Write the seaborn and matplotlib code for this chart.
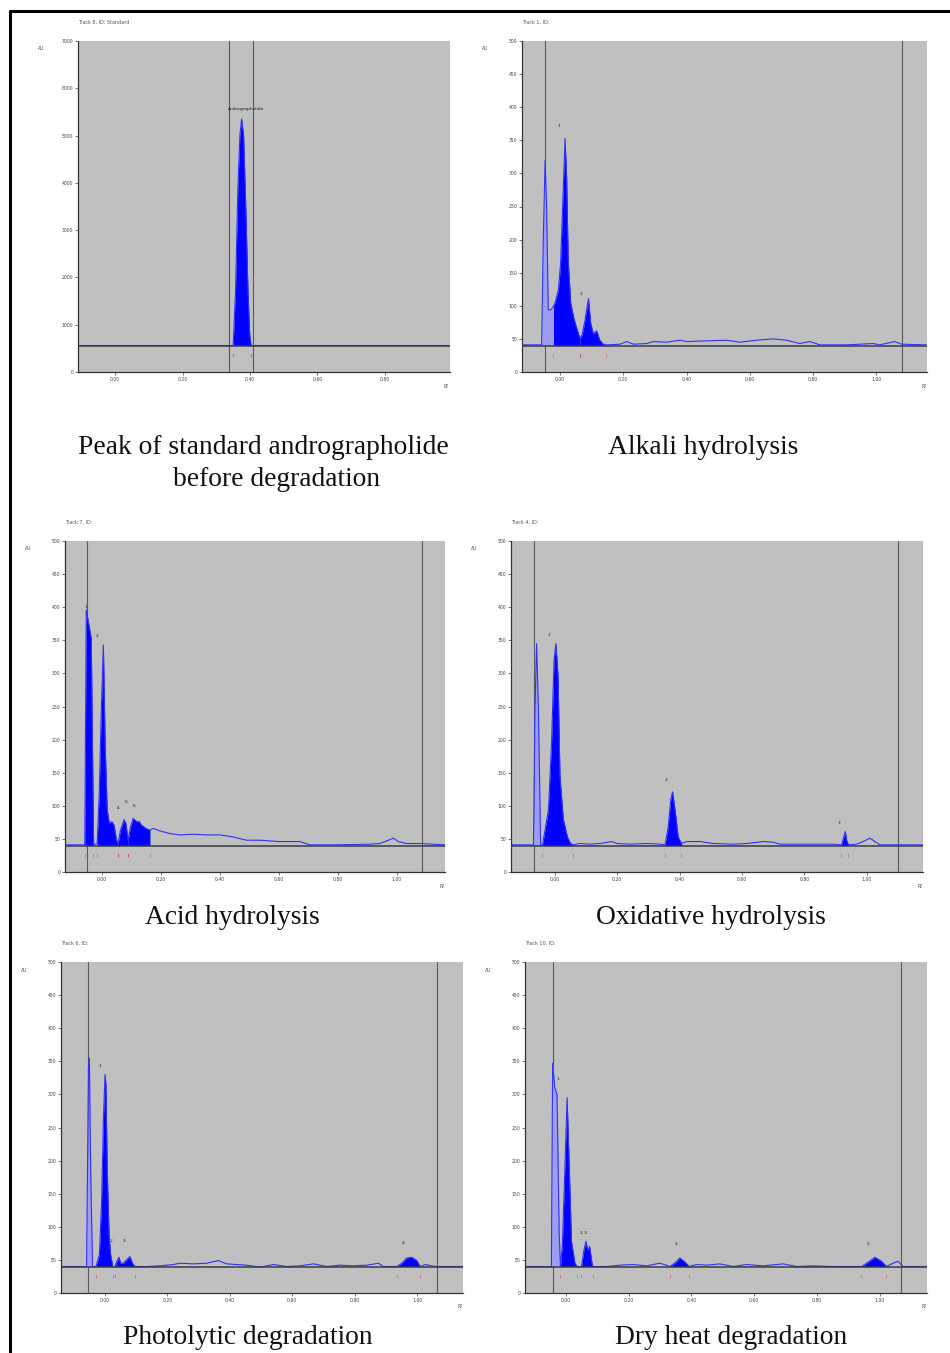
import numpy as np
import pandas as pd
import matplotlib
matplotlib.use("Agg")
import matplotlib.pyplot as plt
from matplotlib.lines import Line2D
import seaborn as sns

# ---- data (Rf, AU) ----
std_rf = [-0.11, 0.350, 0.357, 0.364, 0.370, 0.375, 0.381, 0.387, 0.394, 0.399, 0.403, 0.993]
std_au = [560, 560, 1700, 3900, 5000, 5350, 5000, 3600, 1700, 800, 560, 560]

alk_rf = [-0.121, -0.058, -0.053, -0.047, -0.042, -0.037, -0.029, -0.021, -0.016, -0.005,
          0.002, 0.008, 0.016, 0.021, 0.026, 0.034, 0.044, 0.055, 0.063, 0.070, 0.079,
          0.090, 0.097, 0.105, 0.116, 0.126, 0.137, 0.147, 0.190, 0.211, 0.232, 0.274,
          0.295, 0.337, 0.379, 0.400, 0.463, 0.527, 0.569, 0.621, 0.674, 0.716, 0.758,
          0.790, 0.821, 0.906, 0.990, 1.011, 1.058, 1.080, 1.158]
alk_au = [41, 41, 194, 320, 245, 94, 94, 99, 104, 124, 164, 245, 353, 295, 169, 104, 81,
          63, 51, 56, 78, 111, 74, 58, 62, 48, 42, 41, 42, 46, 42, 43, 46, 45, 48, 46, 47,
          48, 45, 48, 50, 48, 43, 46, 41, 41, 43, 41, 46, 42, 41]

acid_rf = [-0.125, -0.058, -0.053, -0.045, -0.036, -0.032, -0.028, -0.016, -0.009, -0.002,
           0.005, 0.011, 0.018, 0.025, 0.034, 0.041, 0.050, 0.055, 0.063, 0.075, 0.081,
           0.089, 0.097, 0.106, 0.118, 0.127, 0.134, 0.149, 0.163, 0.174, 0.197, 0.231,
           0.264, 0.310, 0.355, 0.400, 0.445, 0.490, 0.536, 0.603, 0.671, 0.705, 0.795,
           0.908, 0.942, 0.965, 0.988, 1.005, 1.033, 1.078, 1.163]
acid_au = [41, 41, 396, 376, 353, 194, 41, 43, 119, 245, 343, 194, 94, 74, 76, 71, 48, 43,
           63, 79, 74, 48, 68, 81, 76, 76, 71, 66, 63, 66, 62, 58, 56, 57, 56, 56, 53, 48,
           48, 46, 46, 41, 41, 42, 43, 47, 51, 46, 43, 43, 41]

oxi_rf = [-0.142, -0.069, -0.064, -0.059, -0.053, -0.046, -0.040, -0.032, -0.021, -0.011,
          -0.003, 0.003, 0.010, 0.016, 0.027, 0.040, 0.050, 0.059, 0.080, 0.112, 0.144,
          0.182, 0.198, 0.240, 0.294, 0.337, 0.353, 0.363, 0.371, 0.377, 0.385, 0.395,
          0.406, 0.422, 0.465, 0.507, 0.572, 0.614, 0.668, 0.700, 0.721, 0.785, 0.828,
          0.892, 0.919, 0.926, 0.931, 0.935, 0.941, 0.967, 0.988, 1.010, 1.026, 1.042, 1.181]
oxi_au = [41, 41, 245, 345, 245, 41, 41, 63, 94, 194, 320, 345, 295, 144, 79, 53, 43, 41,
          43, 42, 43, 46, 43, 42, 43, 42, 41, 68, 109, 121, 94, 53, 43, 46, 46, 43, 42, 43,
          46, 45, 42, 42, 42, 42, 41, 53, 61, 48, 41, 42, 46, 51, 46, 41, 41]

photo_rf = [-0.142, -0.059, -0.053, -0.050, -0.046, -0.040, -0.029, -0.018, -0.011, -0.005,
            0.000, 0.003, 0.007, 0.013, 0.018, 0.025, 0.032, 0.040, 0.045, 0.050, 0.059,
            0.069, 0.080, 0.088, 0.096, 0.134, 0.176, 0.219, 0.240, 0.283, 0.326, 0.363,
            0.390, 0.454, 0.497, 0.540, 0.582, 0.625, 0.668, 0.710, 0.753, 0.796, 0.839,
            0.876, 0.892, 0.935, 0.951, 0.967, 0.983, 0.999, 1.010, 1.026, 1.058, 1.148]
photo_au = [40, 40, 340, 355, 189, 40, 40, 58, 138, 264, 330, 315, 189, 88, 58, 40, 40, 50,
            54, 45, 45, 50, 55, 45, 40, 40, 41, 43, 45, 44, 45, 49, 44, 42, 39, 43, 40, 41,
            44, 40, 42, 41, 42, 45, 40, 40, 45, 53, 54, 49, 40, 43, 40, 40]

dry_rf = [-0.131, -0.046, -0.042, -0.035, -0.028, -0.021, -0.017, -0.011, -0.003, 0.004,
          0.011, 0.018, 0.029, 0.036, 0.050, 0.057, 0.064, 0.070, 0.076, 0.084, 0.087,
          0.130, 0.172, 0.214, 0.257, 0.299, 0.321, 0.331, 0.347, 0.363, 0.379, 0.393,
          0.416, 0.448, 0.490, 0.533, 0.575, 0.628, 0.692, 0.735, 0.788, 0.851, 0.894,
          0.942, 0.958, 0.984, 1.005, 1.021, 1.042, 1.058, 1.074, 1.149]
dry_au = [40, 40, 347, 310, 300, 88, 40, 73, 189, 295, 189, 78, 45, 40, 40, 63, 78, 65, 70,
          43, 40, 40, 42, 43, 41, 45, 42, 40, 45, 53, 47, 40, 43, 42, 44, 40, 43, 41, 44,
          40, 41, 40, 40, 40, 45, 54, 48, 40, 45, 48, 40, 40]

# integrated peak windows and the un-integrated front spike
std_fill = [(0.350, 0.403)]
alk_fill = [(-0.021, 0.063), (0.063, 0.147)]
acid_fill = [(-0.058, -0.028), (-0.016, 0.055), (0.055, 0.089), (0.089, 0.163)]
oxi_fill = [(-0.040, 0.059), (0.353, 0.406), (0.919, 0.941)]
photo_fill = [(-0.029, 0.025), (0.032, 0.096), (0.935, 1.010)]
dry_fill = [(-0.017, 0.036), (0.050, 0.087), (0.331, 0.393), (0.942, 1.021)]

alk_ghost = (-0.058, -0.021)
oxi_ghost = (-0.069, -0.046)
photo_ghost = (-0.059, -0.040)
dry_ghost = (-0.046, -0.017)

# peak number labels
std_labels = [(0.336, 5520, "Andrographolide")]
alk_labels = [(-0.007, 368, "1"), (0.061, 115, "2")]
acid_labels = [(-0.058, 397, "1"), (-0.020, 353, "2"), (0.050, 94, "4"), (0.078, 103, "5"), (0.106, 97, "6")]
oxi_labels = [(-0.024, 355, "1"), (0.353, 136, "2"), (0.908, 71, "3")]
photo_labels = [(-0.021, 340, "1"), (0.016, 76, "2"), (0.057, 76, "3"), (0.951, 72, "4")]
dry_labels = [(-0.030, 320, "1"), (0.045, 88, "2 3"), (0.347, 71, "4"), (0.958, 71, "5")]

titles = [["Peak of standard andrographolide", "before degradation"], ["Alkali hydrolysis"],
          ["Acid hydrolysis"], ["Oxidative hydrolysis"],
          ["Photolytic degradation"], ["Dry heat degradation"]]
tracks = ["Track 8, ID: Standard", "Track 1, ID:", "Track 7, ID:", "Track 4, ID:",
          "Track 6, ID:", "Track 10, ID:"]

# ---- layout ----
W, H = 950, 1353
sns.set_theme(style="white")
plt.rcParams["font.family"] = ["DejaVu Sans"]
fig = plt.figure(figsize=(W / 100, H / 100), dpi=100)
fig.patch.set_facecolor("white")

panels = [
    dict(rf=std_rf, au=std_au, fill=std_fill, ghost=None, labels=std_labels, base=560,
         box=(78, 41, 450, 372), xlim=(-0.11, 0.993), ylim=7000, ystep=1000,
         xticks=[0, 0.2, 0.4, 0.6, 0.8], vlines=(0.339, 0.410)),
    dict(rf=alk_rf, au=alk_au, fill=alk_fill, ghost=alk_ghost, labels=alk_labels, base=40,
         box=(522, 41, 927, 372), xlim=(-0.12, 1.16), ylim=500, ystep=50,
         xticks=[0, 0.2, 0.4, 0.6, 0.8, 1.0], vlines=(-0.047, 1.080)),
    dict(rf=acid_rf, au=acid_au, fill=acid_fill, ghost=None, labels=acid_labels, base=40,
         box=(65, 541, 445, 872), xlim=(-0.125, 1.163), ylim=500, ystep=50,
         xticks=[0, 0.2, 0.4, 0.6, 0.8, 1.0], vlines=(-0.051, 1.085)),
    dict(rf=oxi_rf, au=oxi_au, fill=oxi_fill, ghost=oxi_ghost, labels=oxi_labels, base=40,
         box=(511, 541, 923, 872), xlim=(-0.141, 1.18), ylim=500, ystep=50,
         xticks=[0, 0.2, 0.4, 0.6, 0.8, 1.0], vlines=(-0.067, 1.099)),
    dict(rf=photo_rf, au=photo_au, fill=photo_fill, ghost=photo_ghost, labels=photo_labels, base=40,
         box=(61, 962, 463, 1293), xlim=(-0.141, 1.147), ylim=500, ystep=50,
         xticks=[0, 0.2, 0.4, 0.6, 0.8, 1.0], vlines=(-0.054, 1.064)),
    dict(rf=dry_rf, au=dry_au, fill=dry_fill, ghost=dry_ghost, labels=dry_labels, base=40,
         box=(525, 962, 927, 1293), xlim=(-0.13, 1.15), ylim=500, ystep=50,
         xticks=[0, 0.2, 0.4, 0.6, 0.8, 1.0], vlines=(-0.041, 1.067)),
]

title_pos = [[(263, 448), (277, 480)], [(703, 448)], [(232, 918)], [(711, 918)],
             [(248, 1337)], [(731, 1337)]]

for i, p in enumerate(panels):
    x0, y0, x1, y1 = p["box"]
    ax = fig.add_axes([x0 / W, 1 - y1 / H, (x1 - x0) / W, (y1 - y0) / H])
    ax.set_facecolor("#c0c0c0")
    df = pd.DataFrame({"rf": p["rf"], "au": p["au"]})
    rf = df["rf"].to_numpy()
    au = df["au"].to_numpy()

    # integrated peaks
    for a, b in p["fill"]:
        m = (rf >= a - 1e-9) & (rf <= b + 1e-9)
        ax.fill_between(rf[m], p["base"], au[m], color="#0000ff", lw=0, zorder=2)
        for edge in (a, b):
            ax.text(edge, p["base"] - p["ylim"] * 0.025, "1" if i == 0 else "|",
                    color="#e03020", fontsize=3.2, ha="center", va="top", zorder=4)
    if p["ghost"] is not None:
        a, b = p["ghost"]
        m = (rf >= a - 1e-9) & (rf <= b + 1e-9)
        ax.fill_between(rf[m], p["base"], au[m], color="#9c9cf0", lw=0, zorder=2)

    sns.lineplot(data=df, x="rf", y="au", ax=ax, sort=False, estimator=None,
                 color="#3030ff", linewidth=0.8, zorder=3)

    ax.axhline(p["base"], color="#3a3a44", lw=1.1, zorder=3)
    for v in p["vlines"]:
        ax.axvline(v, color="#5a5a5a", lw=0.8, zorder=1)

    for lx, ly, lt in p["labels"]:
        ax.text(lx, ly, lt, fontsize=3.2, color="#202020", ha="left", va="bottom", zorder=5)

    ax.set_xlim(*p["xlim"])
    ax.set_ylim(0, p["ylim"])
    ax.set_xticks(p["xticks"])
    ax.set_xticklabels([f"{t:.2f}" for t in p["xticks"]])
    yt = np.arange(0, p["ylim"] + 1, p["ystep"])
    ax.set_yticks(yt)
    ax.set_yticklabels([f"{int(t)}" for t in yt])
    ax.tick_params(axis="both", labelsize=3.3, labelcolor="#444444", length=2,
                   width=0.5, color="#444444", pad=1.5, left=True, bottom=True)
    ax.set_xlabel("")
    ax.set_ylabel("")
    for s in ("top", "right"):
        ax.spines[s].set_visible(False)
    for s in ("left", "bottom"):
        ax.spines[s].set_color("#333333")
        ax.spines[s].set_linewidth(0.9)

    fig.text((x0 - 40) / W, 1 - (y0 + 8) / H, "AU", fontsize=3.3, color="#444444",
             ha="left", va="center")
    fig.text((x1 - 6) / W, 1 - (y1 + 14) / H, "Rf", fontsize=3.3, color="#444444",
             ha="left", va="center")
    fig.text(x0 / W, 1 - (y0 - 19) / H, tracks[i], fontsize=3.5, color="#555555",
             ha="left", va="center")

    for line, (tx, ty) in zip(titles[i], title_pos[i]):
        fig.text(tx / W, 1 - ty / H, line, fontsize=19.8, family="Liberation Serif",
                 color="#111111", ha="center", va="center")

# outer frame (top and left edges)
fig.add_artist(Line2D([10 / W, 10 / W], [0, 1 - 11 / H], color="black", lw=2.2))
fig.add_artist(Line2D([10 / W, 1], [1 - 11 / H, 1 - 11 / H], color="black", lw=2.2))

fig.savefig("out.png", dpi=100, facecolor="white")
